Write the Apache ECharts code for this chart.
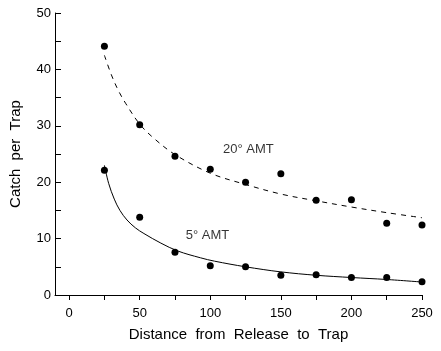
<!DOCTYPE html>
<html>
<head>
<meta charset="utf-8">
<script src="https://cdn.jsdelivr.net/npm/echarts@6/dist/echarts.min.js"></script>
<style>
  html, body { margin: 0; padding: 0; background: #fff; }
  #container { width: 441px; height: 351px; }
</style>
</head>
<body>
<div id="container"></div>
<script>
let chart = echarts.init(document.getElementById('container'));

// trap distances and observed catches
var distances = [25, 50, 75, 100, 125, 150, 175, 200, 225, 250];
var catch20 = [44.1, 30.2, 24.6, 22.3, 20.0, 21.5, 16.8, 16.9, 12.7, 12.4];
var catch5 = [22.1, 13.8, 7.6, 5.2, 5.0, 3.5, 3.6, 3.1, 3.1, 2.35];

// fitted curves
var fit20X = [25, 30, 35, 40, 50, 60, 75, 100, 125, 150, 175, 200, 225, 250];
var fit20Y = [42.5, 39.0, 36.2, 34.0, 30.3, 27.8, 24.9, 21.6, 19.6, 17.9, 16.7, 15.6, 14.6, 13.7];
var fit5X = [25, 28, 32, 36, 41, 47, 53, 65, 77, 93, 103, 125, 150, 175, 200, 225, 250];
var fit5Y = [23.0, 19.8, 17.0, 15.0, 13.3, 11.9, 10.9, 9.2, 7.8, 6.6, 6.0, 5.0, 4.1, 3.5, 3.1, 2.75, 2.3];

var xTicks = [0, 25, 50, 75, 100, 125, 150, 175, 200, 225, 250];
var xLabels = [0, 50, 100, 150, 200, 250];
var yTicks = [0, 5, 10, 15, 20, 25, 30, 35, 40, 45, 50];
var yLabels = [0, 10, 20, 30, 40, 50];

var curveLabels = [
    {text: '20° AMT', x: 127, y: 25.8},
    {text: '5° AMT', x: 98, y: 10.6},
];

function pairs(xs, ys) {
    return xs.map((x, i) => [x, ys[i]]);
}

var font = 'Liberation Sans, Arial, sans-serif';
var black = '#000';

let option = {
    animation: false,
    grid: {
        left: 53,
        right: 19,
        top: 13,
        bottom: 56,
    },
    xAxis: {
        type: 'value',
        min: -10,
        max: 250,
        name: 'Distance  from  Release  to  Trap',
        nameLocation: 'middle',
        nameGap: 32,
        nameTextStyle: {color: black, fontFamily: font, fontSize: 15},
        axisLine: {onZero: false, lineStyle: {color: black, width: 1}},
        axisTick: {
            length: 5,
            lineStyle: {color: black},
            customValues: xTicks,
        },
        axisLabel: {
            color: black,
            fontFamily: font,
            fontSize: 13,
            margin: 12,
            customValues: xLabels,
        },
        splitLine: {show: false},
    },
    yAxis: {
        type: 'value',
        min: 0,
        max: 50,
        name: 'Catch  per  Trap',
        nameLocation: 'middle',
        nameGap: 32,
        nameTextStyle: {color: black, fontFamily: font, fontSize: 15},
        axisLine: {show: true, onZero: false, lineStyle: {color: black, width: 1}},
        axisTick: {
            show: true,
            inside: true,
            length: 6,
            lineStyle: {color: black},
            customValues: yTicks,
        },
        axisLabel: {
            color: black,
            fontFamily: font,
            fontSize: 13,
            margin: 4,
            customValues: yLabels,
        },
        splitLine: {show: false},
    },
    series: [
        {
            name: '20 fit',
            type: 'line',
            data: pairs(fit20X, fit20Y),
            smooth: 0.35,
            showSymbol: false,
            lineStyle: {color: black, width: 1, type: [5, 5]},
        },
        {
            name: '5 fit',
            type: 'line',
            data: pairs(fit5X, fit5Y),
            smooth: 0.35,
            showSymbol: false,
            lineStyle: {color: black, width: 1},
        },
        {
            name: '20 AMT',
            type: 'scatter',
            data: pairs(distances, catch20),
            symbolSize: 7,
            itemStyle: {color: black, opacity: 1},
        },
        {
            name: '5 AMT',
            type: 'scatter',
            data: pairs(distances, catch5),
            symbolSize: 7,
            itemStyle: {color: black, opacity: 1},
        },
        {
            name: 'labels',
            type: 'scatter',
            symbolSize: 0,
            data: curveLabels.map(l => ({value: [l.x, l.y], name: l.text})),
            label: {
                show: true,
                position: 'inside',
                formatter: p => p.name,
                color: black,
                fontFamily: font,
                fontSize: 13,
            },
        },
    ],
};

chart.setOption(option);
</script>
</body>
</html>
